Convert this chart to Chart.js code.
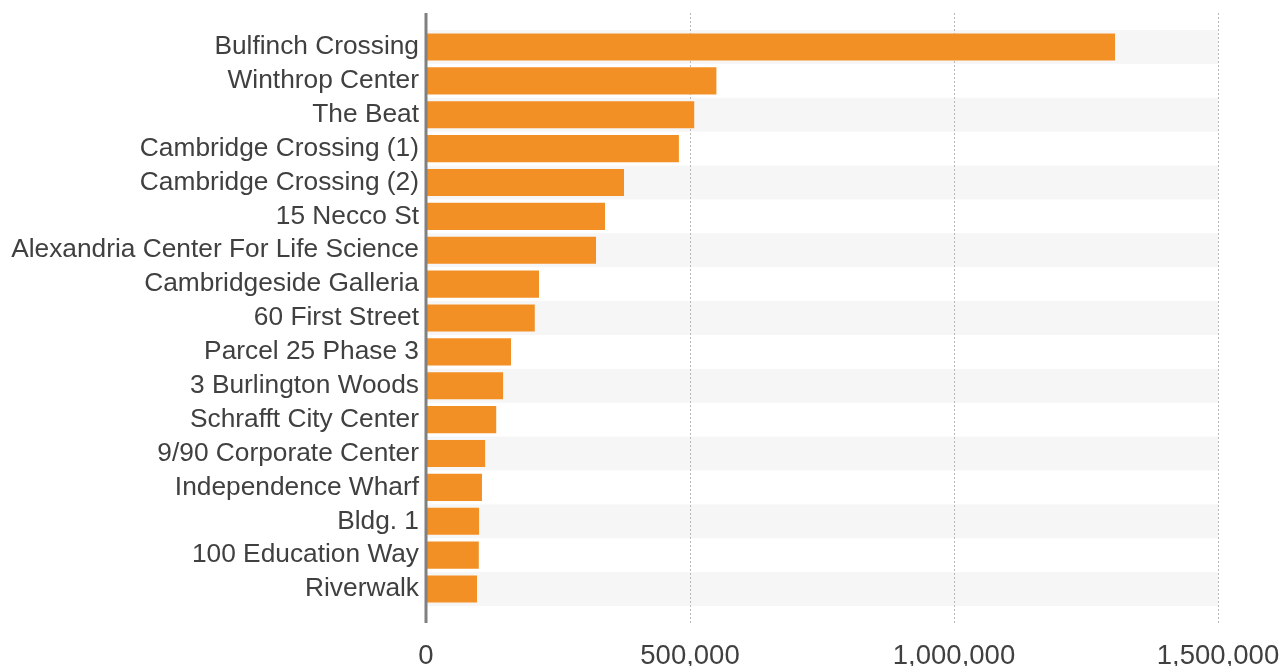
<!DOCTYPE html>
<html>
<head>
<meta charset="utf-8">
<script src="https://cdn.jsdelivr.net/npm/chart.js@4"></script>
<style>
html,body{margin:0;padding:0;background:#fff;overflow:hidden;}
canvas{display:block;}
</style>
</head>
<body>
<canvas id="c" width="1285" height="680" style="width:1285px;height:680px;"></canvas>
<script>
const categories = ["Bulfinch Crossing","Winthrop Center","The Beat","Cambridge Crossing (1)","Cambridge Crossing (2)","15 Necco St","Alexandria Center For Life Science","Cambridgeside Galleria","60 First Street","Parcel 25 Phase 3","3 Burlington Woods","Schrafft City Center","9/90 Corporate Center","Independence Wharf","Bldg. 1","100 Education Way","Riverwalk"];
const values = [1305000,550000,508000,479000,375000,339000,322000,214000,206000,161000,146000,133000,112000,106000,100500,100000,96600];
const xTicks = [0,500000,1000000,1500000];

const decor = {
  id:'decor',
  beforeDatasetsDraw(chart){
    const {ctx, chartArea:a, scales:{x,y}} = chart;
    ctx.save();
    const n = categories.length;
    const h = (a.bottom - a.top)/n;
    ctx.fillStyle = '#f6f6f6';
    for(let i=0;i<n;i+=2){
      const c = y.getPixelForValue(i);
      ctx.fillRect(a.left, c - h/2, a.right - a.left, h);
    }
    ctx.strokeStyle = '#b8b8b8';
    ctx.lineWidth = 1;
    ctx.setLineDash([2,2]);
    xTicks.slice(1).forEach(v=>{
      const px = Math.round(x.getPixelForValue(v))+0.5;
      ctx.beginPath(); ctx.moveTo(px, a.top-17); ctx.lineTo(px, a.bottom+17); ctx.stroke();
    });
    ctx.restore();
  },
  afterDatasetsDraw(chart){
    const {ctx, chartArea:a, scales:{x}} = chart;
    ctx.save();
    ctx.strokeStyle = '#808080';
    ctx.lineWidth = 3;
    const px = x.getPixelForValue(0);
    ctx.beginPath(); ctx.moveTo(px, a.top-17); ctx.lineTo(px, a.bottom+17); ctx.stroke();
    ctx.restore();
  }
};

new Chart(document.getElementById('c'), {
  type:'bar',
  data:{labels:categories, datasets:[{data:values, backgroundColor:'#F39025', borderWidth:0, barPercentage:0.8, categoryPercentage:1}]},
  options:{
    indexAxis:'y',
    responsive:false, maintainAspectRatio:false, animation:false,
    devicePixelRatio:1,
    layout:{padding:{top:30, right:67, bottom:7, left:0}},
    plugins:{legend:{display:false}, tooltip:{enabled:false}},
    scales:{
      x:{min:0, max:1500000, afterBuildTicks(s){ s.ticks = xTicks.map(v=>({value:v})); },
         afterFit(s){ s.height = 67; s.paddingLeft = 0; s.paddingRight = 0; },
         grid:{display:false, drawTicks:false}, border:{display:false},
         ticks:{padding:34, color:'#404040', maxRotation:0, font:{family:'Liberation Sans, Arial', size:27.5},
           callback:(v)=>Number(v).toLocaleString('en-US')}},
      y:{grid:{display:false, drawTicks:false}, border:{display:false},
         afterFit(s){ s.width = 426; s.paddingTop = 0; s.paddingBottom = 0; },
         ticks:{padding:7, autoSkip:false, color:'#404040', font:{family:'Liberation Sans, Arial', size:26.3}}}
    }
  },
  plugins:[decor]
});
</script>
</body>
</html>
